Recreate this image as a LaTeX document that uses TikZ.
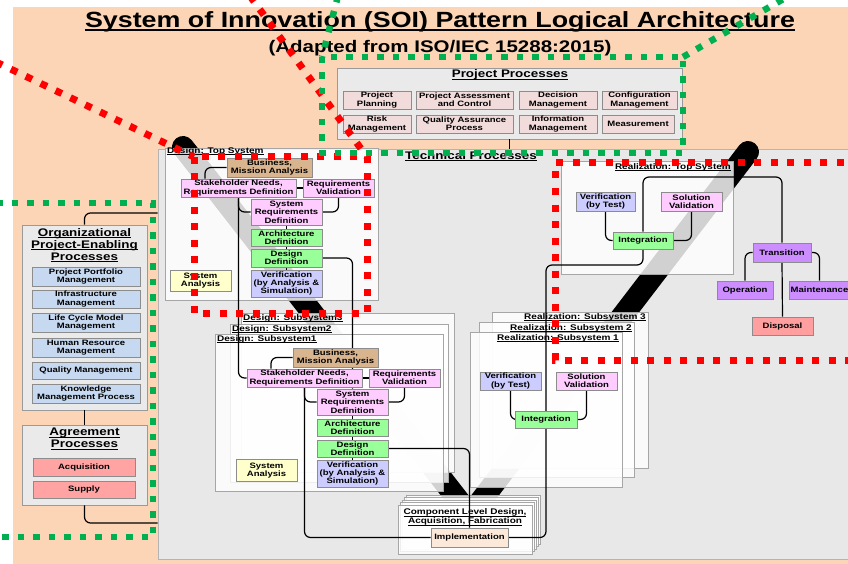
\documentclass[tikz,border=0pt]{standalone}
\usepackage{fontspec}
\setmainfont{Liberation Sans}[FakeStretch=1.22]
\usepackage{tikz}
\usetikzlibrary{calc}

\definecolor{peach}{HTML}{FBD5B5}
\definecolor{techgrey}{HTML}{E8E8E8}
\definecolor{techline}{HTML}{B4B4B4}
\definecolor{grpgrey}{HTML}{EAEAEA}
\definecolor{grpline}{HTML}{9A9A9A}
\definecolor{contline}{HTML}{A6A6A6}
\definecolor{boxline}{HTML}{8C8C8C}
\definecolor{projpink}{HTML}{F2DCDB}
\definecolor{orgblue}{HTML}{C6D9F1}
\definecolor{agrred}{HTML}{FFA3A3}
\definecolor{bizbrown}{HTML}{D8B48F}
\definecolor{reqpink}{HTML}{FFCCFF}
\definecolor{archgreen}{HTML}{99FF99}
\definecolor{verblue}{HTML}{CCCCFF}
\definecolor{anayellow}{HTML}{FFFFCC}
\definecolor{transpurple}{HTML}{CC8DFF}
\definecolor{disppink}{HTML}{FF9F9F}
\definecolor{implpeach}{HTML}{FDE9D9}
\definecolor{dotred}{HTML}{FF0000}
\definecolor{dotgreen}{HTML}{00B050}

\newcommand{\ulx}[2][0.6pt]{\setbox0=\hbox{#2}\rlap{\rule[\dimexpr-#1-1.3pt\relax]{\wd0}{#1}}\box0}

\pgfdeclarelayer{bg}
\pgfdeclarelayer{mid}
\pgfdeclarelayer{front}
\pgfsetlayers{bg,mid,main,front}

\tikzset{
  area/.style={draw=techline, fill=techgrey, line width=0.8pt, inner sep=0pt},
  grp/.style={draw=grpline, fill=grpgrey, line width=0.8pt, inner sep=0pt},
  cont/.style={draw=contline, fill=white, fill opacity=0.82, line width=0.8pt, inner sep=0pt},
  box/.style={draw=boxline, line width=0.6pt, inner sep=0pt, align=center,
    font=\fontsize{7.8}{8.4}\selectfont\bfseries},
  hdr/.style={inner sep=0pt, align=center, font=\fontsize{11}{12}\selectfont\bfseries},
  lbl/.style={inner sep=0pt, align=center, font=\fontsize{8.2}{9}\selectfont\bfseries},
  conn/.style={line width=1.2pt, rounded corners=6pt},
  reddots/.style={draw=dotred, line width=7pt, dash pattern=on 7pt off 9.5pt},
  greendots/.style={draw=dotgreen, line width=6.5pt, dash pattern=on 6.5pt off 9pt},
}

\begin{document}
\begin{tikzpicture}[x=1pt,y=-1pt]
\useasboundingbox (0,0) rectangle (848,564);

\begin{pgfonlayer}{bg}
  \fill[white] (0,0) rectangle (848,564);
  \fill[peach] (13,7) rectangle (860,570);
  \node[area, minimum width=702, minimum height=410] (tech) at (509,354) {};
  % life cycle band
  \draw[line width=22pt, line cap=round] (183,147) -- (470,515) -- (748,152);

  \node[grp, minimum width=345, minimum height=71] (proj) at (509.5,103.5) {};
  \node[grp, minimum width=125, minimum height=185] (org) at (84.5,317.5) {};
  \node[grp, minimum width=125, minimum height=80] (agr) at (84.5,465) {};

  \node[cont, minimum width=213, minimum height=152] (dtop) at (271.5,224) {};
  \node[cont, minimum width=213, minimum height=159] (dsub3) at (347.5,392.5) {};
  \node[cont, minimum width=218, minimum height=158] (dsub2) at (339,403) {};
  \node[cont, minimum width=228, minimum height=157] (dsub1) at (329,412.5) {};

  \node[cont, minimum width=172, minimum height=113] (rtop) at (647,217.5) {};
  \node[cont, minimum width=156, minimum height=156] (rsub3) at (570,390) {};
  \node[cont, minimum width=155, minimum height=155] (rsub2) at (556.5,399.5) {};
  \node[cont, minimum width=152, minimum height=155] (rsub1) at (546,409.5) {};

  \foreach \k in {4,3,2,1}
    \node[cont, minimum width=134, minimum height=49] (comp\k) at ({465+2*\k},{529.5-2.5*\k}) {};
  \node[cont, minimum width=134, minimum height=49] (comp) at (465,529.5) {};
\end{pgfonlayer}

% titles
\node[anchor=base, inner sep=0pt, font=\fontsize{22}{26}\selectfont\bfseries] (ttl) at (440,28)
  {\ulx[1.6pt]{System of Innovation (SOI) Pattern Logical Architecture}};
\node[anchor=base, inner sep=0pt, font=\fontsize{16.8}{20}\selectfont\bfseries] (subttl) at (440,53)
  {(Adapted from ISO/IEC 15288:2015)};

\node[hdr] (projt) at (510,75) {\ulx{Project Processes}};
\node[hdr] (techt) at (471,156) {\ulx{Technical Processes}};
\node[hdr] (orgt) at (84.5,245) {\ulx{Organizational}\\\ulx{Project-Enabling}\\\ulx{Processes}};
\node[hdr] (agrt) at (84.5,439) {\ulx{Agreement}\\\ulx{Processes}};

\node[lbl, anchor=west] (dtopt) at (167,151) {\ulx{Design: Top System}};
\node[lbl, anchor=west] (dsub3t) at (243,318) {\ulx{Design: Subsystem3}};
\node[lbl, anchor=west] (dsub2t) at (232,329) {\ulx{Design: Subsystem2}};
\node[lbl, anchor=west] (dsub1t) at (217,339) {\ulx{Design: Subsystem1}};
\node[lbl, anchor=east] (rtopt) at (731,167) {\ulx{Realization: Top System}};
\node[lbl, anchor=east] (rsub3t) at (646,317) {\ulx{Realization: Subsystem 3}};
\node[lbl, anchor=east] (rsub2t) at (632,328) {\ulx{Realization: Subsystem 2}};
\node[lbl, anchor=east] (rsub1t) at (619,338) {\ulx{Realization: Subsystem 1}};
\node[lbl] (compt) at (465,517) {\ulx{Component Level Design,}\\\ulx{Acquisition, Fabrication}};

% project processes
\node[box, fill=projpink, minimum width=68, minimum height=18] (pplan) at (377,100) {Project\\Planning};
\node[box, fill=projpink, minimum width=97, minimum height=18] (passess) at (464.5,100) {Project Assessment\\and Control};
\node[box, fill=projpink, minimum width=78, minimum height=18] (pdec) at (558,100) {Decision\\Management};
\node[box, fill=projpink, minimum width=75, minimum height=18] (pconf) at (639.5,100) {Configuration\\Management};
\node[box, fill=projpink, minimum width=68, minimum height=18] (prisk) at (377,124) {Risk\\Management};
\node[box, fill=projpink, minimum width=97, minimum height=18] (pqa) at (464.5,124) {Quality Assurance\\Process};
\node[box, fill=projpink, minimum width=78, minimum height=18] (pinfo) at (558,124) {Information\\Management};
\node[box, fill=projpink, minimum width=72, minimum height=18] (pmeas) at (638,124) {Measurement};

% organizational project-enabling and agreement processes
\node[box, fill=orgblue, minimum width=108, minimum height=19] (oport) at (86,276.5) {Project Portfolio\\Management};
\node[box, fill=orgblue, minimum width=108, minimum height=18] (oinfra) at (86,299) {Infrastructure\\Management};
\node[box, fill=orgblue, minimum width=108, minimum height=19] (olcm) at (86,322.5) {Life Cycle Model\\Management};
\node[box, fill=orgblue, minimum width=108, minimum height=19] (ohr) at (86,347.5) {Human Resource\\Management};
\node[box, fill=orgblue, minimum width=108, minimum height=17] (oqm) at (86,370.5) {Quality Management};
\node[box, fill=orgblue, minimum width=108, minimum height=19] (okm) at (86,393.5) {Knowledge\\Management Process};
\node[box, fill=agrred, minimum width=102, minimum height=18] (acq) at (84,467) {Acquisition};
\node[box, fill=agrred, minimum width=102, minimum height=17] (sup) at (84,489.5) {Supply};

% design: top system
\node[box, fill=bizbrown, minimum width=85, minimum height=19] (dbus) at (269.5,167.5) {Business,\\Mission Analysis};
\node[box, fill=reqpink, minimum width=115, minimum height=18] (dsh) at (238.5,188) {Stakeholder Needs,\\Requirements Definition};
\node[box, fill=reqpink, minimum width=71, minimum height=18] (drv) at (338.5,188) {Requirements\\Validation};
\node[box, fill=reqpink, minimum width=71, minimum height=26] (dsr) at (286.5,212) {System\\Requirements\\Definition};
\node[box, fill=archgreen, minimum width=71, minimum height=17] (darch) at (286.5,237.5) {Architecture\\Definition};
\node[box, fill=archgreen, minimum width=71, minimum height=18] (ddes) at (286.5,258) {Design\\Definition};
\node[box, fill=verblue, minimum width=71, minimum height=27] (dver) at (286.5,283.5) {Verification\\(by Analysis \&\\Simulation)};
\node[box, fill=anayellow, minimum width=61, minimum height=21] (dsa) at (200.5,280.5) {System\\Analysis};

% design: subsystem 1
\node[box, fill=bizbrown, minimum width=85, minimum height=19] (sbus) at (335.5,357.5) {Business,\\Mission Analysis};
\node[box, fill=reqpink, minimum width=115, minimum height=18] (ssh) at (304.5,378) {Stakeholder Needs,\\Requirements Definition};
\node[box, fill=reqpink, minimum width=71, minimum height=18] (srv) at (404.5,378) {Requirements\\Validation};
\node[box, fill=reqpink, minimum width=71, minimum height=26] (ssr) at (352.5,402) {System\\Requirements\\Definition};
\node[box, fill=archgreen, minimum width=71, minimum height=17] (sarch) at (352.5,428) {Architecture\\Definition};
\node[box, fill=archgreen, minimum width=71, minimum height=17] (sdes) at (352.5,448.5) {Design\\Definition};
\node[box, fill=verblue, minimum width=71, minimum height=27] (sver) at (352.5,473.5) {Verification\\(by Analysis \&\\Simulation)};
\node[box, fill=anayellow, minimum width=61, minimum height=22] (ssa) at (266.5,470.5) {System\\Analysis};

% realization: top system
\node[box, fill=verblue, minimum width=59, minimum height=19] (rver) at (605.5,201.5) {Verification\\(by Test)};
\node[box, fill=reqpink, minimum width=61, minimum height=19] (rsv) at (691.5,201.5) {Solution\\Validation};
\node[box, fill=archgreen, minimum width=60, minimum height=17] (rint) at (643,240.5) {Integration};
\node[box, fill=transpurple, minimum width=58, minimum height=19] (trans) at (782,252.5) {Transition};
\node[box, fill=transpurple, minimum width=56, minimum height=18] (oper) at (745,290) {Operation};
\node[box, fill=transpurple, minimum width=60, minimum height=18] (maint) at (819.5,290) {Maintenance};
\node[box, fill=disppink, minimum width=61, minimum height=18] (disp) at (782.5,326) {Disposal};

% realization: subsystem 1
\node[box, fill=verblue, minimum width=61, minimum height=18] (r1ver) at (510.5,381) {Verification\\(by Test)};
\node[box, fill=reqpink, minimum width=61, minimum height=18] (r1sv) at (586.5,381) {Solution\\Validation};
\node[box, fill=archgreen, minimum width=62, minimum height=17] (r1int) at (546,419.5) {Integration};

% component level
\node[box, fill=implpeach, minimum width=77, minimum height=19] (impl) at (469.5,537.5) {Implementation};

\begin{pgfonlayer}{mid}
  \draw[conn] (proj.south) -- (proj.south |- tech.north);
  \draw[conn] (org.north) |- (tech.west |- 0,213);
  \draw[conn] (org.south) -- (agr.north);
  \draw[conn] (agr.south) |- (tech.west |- 0,523);

  \draw[conn] (dbus.west) -| (205,0 |- dsh.north);
  \draw[conn] (dsh.east) -- (drv.west);
  \draw[conn] (dsh.south) |- (dsr.west);
  \draw[conn] (dsh.south) |- (ssh.west);
  \draw[conn] (drv.south) |- (dsr.east);
  \draw[conn] (dsr.south) -- (dver.north);
  \draw[conn] (ddes.east) -| (ssr.north);

  \draw[conn] (sbus.west) -| (271,0 |- ssh.north);
  \draw[conn] (ssh.east) -- (srv.west);
  \draw[conn] (ssh.south) |- (ssr.west);
  \draw[conn] (ssh.south) |- (impl.west);
  \draw[conn] (srv.south) |- (ssr.east);
  \draw[conn] (ssr.south) -- (sver.north);
  \draw[conn] (sdes.east) -| (impl.north);

  \draw[conn] (rver.south) |- (rint.west);
  \draw[conn] (rsv.south) |- (rint.east);
  \draw[conn] (rint.north) |- (trans.north |- 0,177) -- (trans.north);
  \draw[conn] (rint.south) |- (546,265) |- (impl.east);
  \draw[conn] (trans.west) -| (oper.north);
  \draw[conn] (trans.east) -| (maint.north);
  \draw[conn] (trans.south) -- (disp.north);

  \draw[conn] (r1ver.south) |- (r1int.west);
  \draw[conn] (r1sv.south) |- (r1int.east);
\end{pgfonlayer}

\begin{pgfonlayer}{front}
  \draw[reddots] (-4,62) -- (194,157);
  \draw[reddots] (250,-4) -- (367,157);
  \draw[reddots] (194,157) rectangle (367,313);
  \draw[reddots] (860,163) -- (555,163) -- (555,360) -- (860,360);
  \draw[greendots] (338,-4) -- (322,57);
  \draw[greendots] (322,57) rectangle (683,153);
  \draw[greendots] (683,57) -- (792,-6);
  \draw[greendots] (-4,203) -- (153,203) -- (153,537) -- (-4,537);
\end{pgfonlayer}

\end{tikzpicture}
\end{document}
